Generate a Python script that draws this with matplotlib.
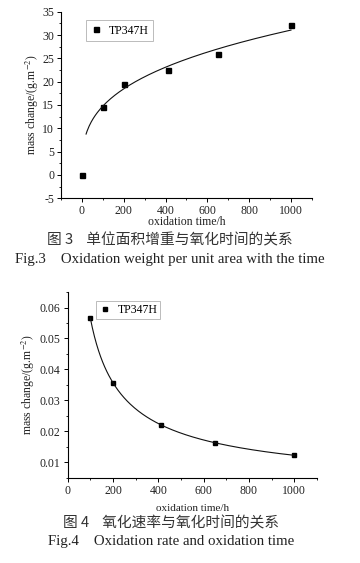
import numpy as np
import matplotlib
matplotlib.use("Agg")
import matplotlib.pyplot as plt
from matplotlib.ticker import MultipleLocator

plt.rcParams['font.family'] = ['Liberation Serif', 'DejaVu Serif']
plt.rcParams['mathtext.fontset'] = 'stix'
plt.rcParams['axes.unicode_minus'] = False

# Fig.3 data: mass gain vs oxidation time
time_3 = [0, 100, 200, 410, 650, 1000]
mass_3 = [0.0, 14.5, 19.5, 22.5, 26.0, 32.2]

# Fig.4 data: oxidation rate vs oxidation time
time_4 = [100, 200, 410, 650, 1000]
rate_4 = [0.0566, 0.0357, 0.0221, 0.0162, 0.0123]

series_name = "TP347H"
ylabel_txt = "mass change/(g.m$^{-2}$)"
xlabel_txt = "oxidation time/h"
cap3_cn = "图 3    单位面积增重与氧化时间的关系"
cap3_en = "Fig.3    Oxidation weight per unit area with the time"
cap4_cn = "图 4    氧化速率与氧化时间的关系"
cap4_en = "Fig.4    Oxidation rate and oxidation time"

TXT = '#222222'


def power_fit(x, y, x0, x1):
    # allometric fit y = a*x^b done in log space
    x = np.array(x, dtype=float)
    y = np.array(y, dtype=float)
    keep = (x > 0) & (y > 0)
    b, lna = np.polyfit(np.log(x[keep]), np.log(y[keep]), 1)
    xs = np.linspace(x0, x1, 200)
    return xs, np.exp(lna) * xs ** b


def style_axes(ax):
    for s in ['top', 'right']:
        ax.spines[s].set_visible(False)
    for s in ['left', 'bottom']:
        ax.spines[s].set_linewidth(0.8)
    ax.tick_params(which='major', direction='out', length=3, width=0.7,
                   labelsize=8.5, colors='black', labelcolor=TXT, pad=2)
    ax.tick_params(which='minor', direction='out', length=1.6, width=0.6)


fig = plt.figure(figsize=(3.6, 5.63), dpi=100)

# ---- Fig.3 ----
ax1 = fig.add_axes([0.1694, 0.6478, 0.697, 0.3314])
ax1.plot(time_3, mass_3, 's', color='black', markersize=3.6, label=series_name,
         linestyle='none')
fx, fy = power_fit(time_3, mass_3, 20, 1000)
ax1.plot(fx, fy, color='#111111', lw=0.8)
ax1.set_xlim(-100, 1100)
ax1.set_ylim(-5, 35)
ax1.xaxis.set_major_locator(MultipleLocator(200))
ax1.xaxis.set_minor_locator(MultipleLocator(100))
ax1.yaxis.set_major_locator(MultipleLocator(5))
ax1.yaxis.set_minor_locator(MultipleLocator(2.5))
style_axes(ax1)
ax1.set_xlabel(xlabel_txt, fontsize=8.5, color=TXT, labelpad=-1)
ax1.set_ylabel(ylabel_txt, fontsize=8.5, color=TXT, labelpad=1)
leg = ax1.legend(loc='upper left', bbox_to_anchor=(0.076, 0.985), fontsize=8.5,
                 handlelength=1.0, handletextpad=0.6, borderpad=0.35,
                 fancybox=False, framealpha=1)
leg.get_frame().set_edgecolor('#bbbbbb')
leg.get_frame().set_linewidth(0.7)

fig.text(0.472, 1 - 240 / 563, cap3_cn, family=['Noto Sans CJK SC', 'DejaVu Sans'],
         fontsize=10.6, color='#333333', ha='center', va='center')
fig.text(0.472, 1 - 259 / 563, cap3_en, fontsize=10.7, color=TXT,
         ha='center', va='center')

# ---- Fig.4 ----
ax2 = fig.add_axes([0.188, 0.1515, 0.6925, 0.3298])
ax2.plot(time_4, rate_4, 's', color='black', markersize=3.4, label=series_name,
         linestyle='none')
fx, fy = power_fit(time_4, rate_4, 100, 1000)
ax2.plot(fx, fy, color='#111111', lw=0.8)
ax2.set_xlim(0, 1100)
ax2.set_ylim(0.005, 0.065)
ax2.xaxis.set_major_locator(MultipleLocator(200))
ax2.xaxis.set_minor_locator(MultipleLocator(100))
ax2.yaxis.set_major_locator(MultipleLocator(0.01))
ax2.yaxis.set_minor_locator(MultipleLocator(0.005))
style_axes(ax2)
ax2.set_xlabel(xlabel_txt, fontsize=8, color=TXT, labelpad=5)
ax2.set_ylabel(ylabel_txt, fontsize=8.5, color=TXT, labelpad=2)
leg = ax2.legend(loc='upper left', bbox_to_anchor=(0.089, 0.985), fontsize=8.5,
                 handlelength=1.0, handletextpad=0.6, borderpad=0.25,
                 fancybox=False, framealpha=1)
leg.get_frame().set_edgecolor('#bbbbbb')
leg.get_frame().set_linewidth(0.7)

fig.text(0.475, 1 - 523 / 563, cap4_cn, family=['Noto Sans CJK SC', 'DejaVu Sans'],
         fontsize=10.6, color='#333333', ha='center', va='center')
fig.text(0.475, 1 - 541 / 563, cap4_en, fontsize=10.7, color=TXT,
         ha='center', va='center')

fig.savefig("out.png", dpi=100, facecolor='white')
